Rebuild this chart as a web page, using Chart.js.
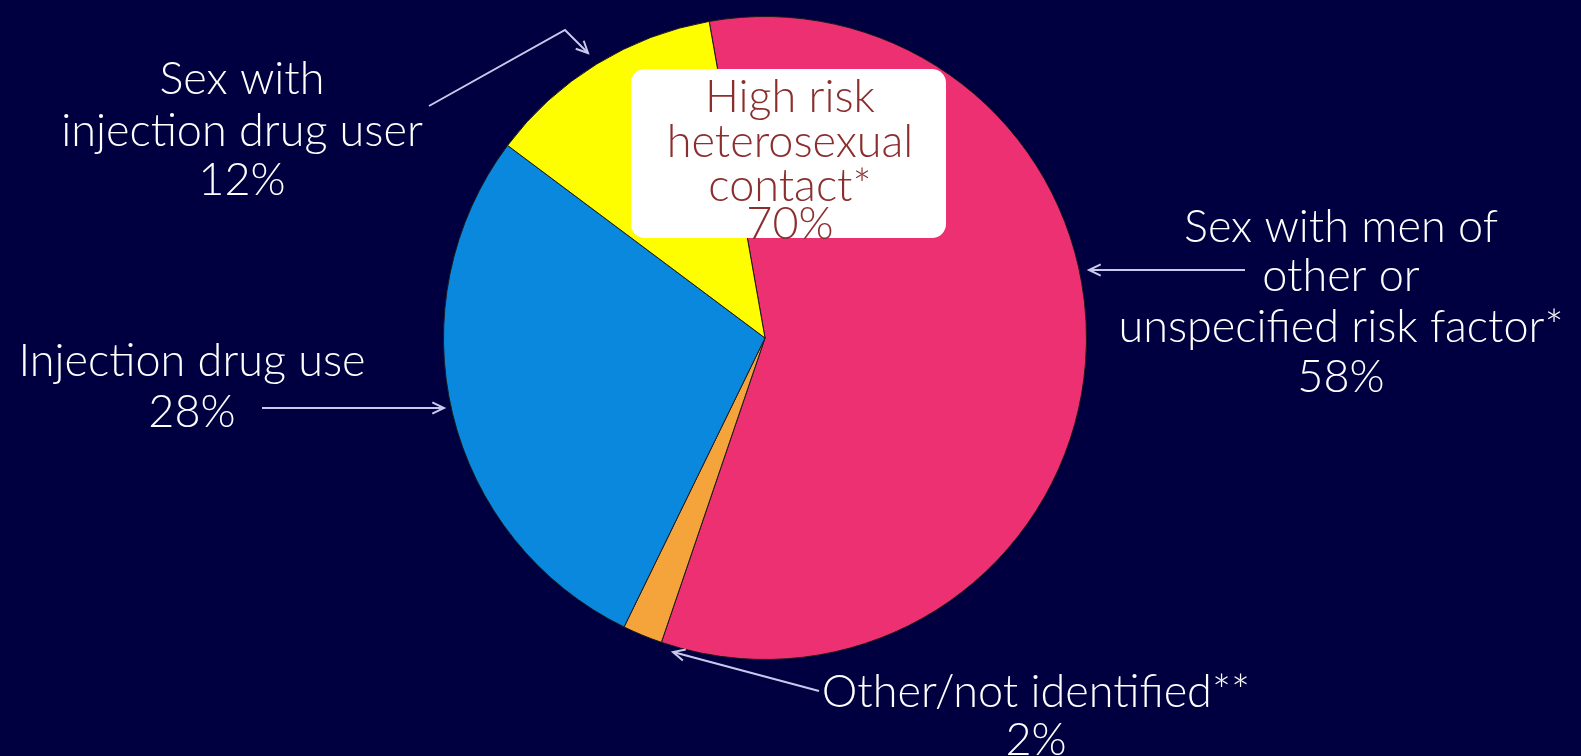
<!DOCTYPE html>
<html>
<head>
<meta charset="utf-8">
<script src="https://cdn.jsdelivr.net/npm/chart.js@4.4.1/dist/chart.umd.min.js"></script>
<style>
  html, body { margin: 0; padding: 0; background: #000040; }
  #wrap { width: 1581px; height: 756px; }
</style>
</head>
<body>
<div id="wrap"><canvas id="riskChart"></canvas></div>
<script>
// categories and values, in drawing order (clockwise from the top)
const categories = [
    'Sex with men of other or unspecified risk factor*',
    'Other/not identified**',
    'Injection drug use',
    'Sex with injection drug user'
];
const shares = [58, 2, 28, 12];
const sliceColors = ['#ec3071', '#f5a33b', '#0a88dd', '#fefe00'];

// text shown next to each slice
const labelLines = [
    ['Sex with men of', 'other or', 'unspecified risk factor*', '58%'],
    ['Other/not identified**', '2%'],
    ['Injection drug use', '28%'],
    ['Sex with', 'injection drug user', '12%']
];
const boxLines = ['High risk', 'heterosexual', 'contact*', '70%'];

const FONT = '300 45px Lato, "Noto Sans", sans-serif';

function arrow(ctx, pts) {
    ctx.beginPath();
    ctx.moveTo(pts[0][0], pts[0][1]);
    for (let i = 1; i < pts.length; i++) ctx.lineTo(pts[i][0], pts[i][1]);
    ctx.stroke();
    // open arrow head at the last point
    const [x1, y1] = pts[pts.length - 2];
    const [x2, y2] = pts[pts.length - 1];
    const a = Math.atan2(y2 - y1, x2 - x1);
    const len = 13;
    ctx.beginPath();
    ctx.moveTo(x2 - len * Math.cos(a - 0.45), y2 - len * Math.sin(a - 0.45));
    ctx.lineTo(x2, y2);
    ctx.lineTo(x2 - len * Math.cos(a + 0.45), y2 - len * Math.sin(a + 0.45));
    ctx.stroke();
}

function lines(ctx, arr, x, ys) {
    arr.forEach((t, i) => ctx.fillText(t, x, ys[i]));
}

const labelsPlugin = {
    id: 'sliceLabels',
    afterDraw(chart) {
        const ctx = chart.ctx;
        ctx.save();
        ctx.font = FONT;
        ctx.textAlign = 'center';
        ctx.textBaseline = 'middle';
        ctx.fillStyle = '#ffffff';

        lines(ctx, labelLines[0], 1341, [227, 276, 327, 377]);
        lines(ctx, labelLines[1], 1036, [692, 740]);
        lines(ctx, labelLines[2], 192, [361, 412]);
        lines(ctx, labelLines[3], 242, [79, 131, 180]);

        ctx.strokeStyle = '#c9c9ee';
        ctx.lineWidth = 2;
        arrow(ctx, [[1245, 270], [1089, 270]]);
        arrow(ctx, [[819, 691], [673, 652]]);
        arrow(ctx, [[262, 408], [444, 408]]);
        arrow(ctx, [[429, 106], [565, 30], [588, 53]]);

        // white rounded call-out box
        ctx.fillStyle = '#ffffff';
        ctx.beginPath();
        ctx.roundRect(631, 69, 315, 169, 14);
        ctx.fill();
        ctx.fillStyle = '#8a2e2e';
        lines(ctx, boxLines, 790, [97, 142, 186, 224]);
        ctx.restore();
    }
};

new Chart(document.getElementById('riskChart'), {
    type: 'pie',
    data: {
        labels: categories,
        datasets: [{
            data: shares,
            backgroundColor: sliceColors,
            borderColor: '#1a1a1a',
            borderWidth: 1
        }]
    },
    options: {
        responsive: true,
        maintainAspectRatio: false,
        animation: false,
        rotation: -10,
        layout: { padding: { left: 443, right: 494, top: 16, bottom: 96 } },
        plugins: {
            legend: { display: false },
            tooltip: { enabled: false }
        }
    },
    plugins: [labelsPlugin]
});
</script>
</body>
</html>
